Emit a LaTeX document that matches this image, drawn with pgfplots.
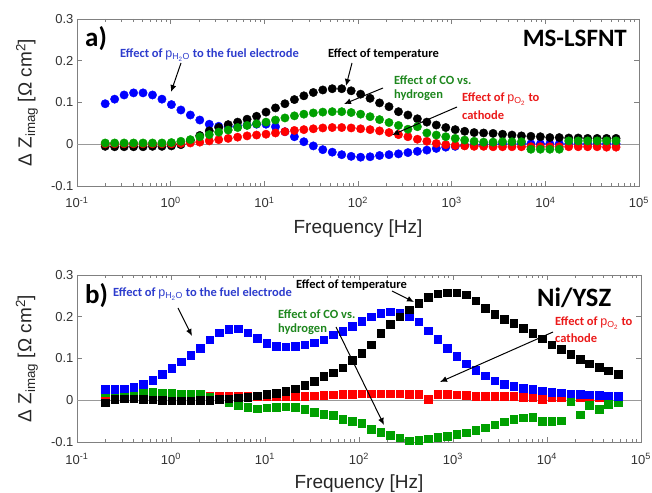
\documentclass[border=0pt]{standalone}
\usepackage{fontspec}
\setmainfont{Liberation Sans}
\newfontfamily\annfont{Carlito}
\usepackage{pgfplots}
\pgfplotsset{compat=1.18}
\usepackage{pgfplotstable}
\usetikzlibrary{arrows.meta}

\definecolor{cblue}{RGB}{0,0,255}
\definecolor{cgreen}{RGB}{0,160,0}
\definecolor{cred}{RGB}{255,0,0}
\definecolor{tblue}{RGB}{45,60,205}
\definecolor{tgreen}{RGB}{30,135,30}
\definecolor{tred}{RGB}{235,25,25}

% columns: frequency, temperature, pH2O, CO vs H2, pO2
\pgfplotstableread{
f temp h2o co o2
0.2 -0.005 0.097 0.003 0.001
0.2523 -0.006 0.108 0.003 0.001
0.3184 -0.006 0.118 0.003 0.001
0.4018 -0.006 0.123 0.003 0.001
0.507 -0.006 0.123 0.003 0.001
0.6397 -0.005 0.118 0.003 0.001
0.8072 -0.005 0.108 0.003 0.001
1.0186 -0.004 0.095 0.004 0.001
1.2853 -0.001 0.082 0.007 0.002
1.6218 0.009 0.070 0.011 0.003
2.0464 0.021 0.058 0.018 0.005
2.5823 0.032 0.048 0.023 0.008
3.2584 0.040 0.043 0.029 0.011
4.1115 0.047 0.042 0.034 0.014
5.188 0.053 0.043 0.040 0.017
6.5464 0.060 0.046 0.045 0.020
8.2604 0.067 0.048 0.049 0.022
10.423 0.077 0.048 0.053 0.024
13.152 0.087 0.042 0.058 0.027
16.596 0.097 0.030 0.063 0.030
20.941 0.107 0.018 0.068 0.033
26.424 0.116 0.006 0.072 0.035
33.343 0.124 -0.004 0.075 0.037
42.073 0.130 -0.013 0.077 0.039
53.088 0.133 -0.019 0.078 0.040
66.988 0.133 -0.025 0.078 0.040
84.528 0.128 -0.029 0.076 0.039
106.66 0.120 -0.031 0.072 0.037
134.59 0.110 -0.030 0.066 0.035
169.82 0.099 -0.027 0.059 0.032
214.29 0.090 -0.025 0.052 0.028
270.4 0.078 -0.023 0.045 0.023
341.19 0.070 -0.020 0.036 0.018
430.53 0.061 -0.017 0.042 0.012
543.25 0.053 -0.014 0.027 0.007
685.49 0.046 -0.010 0.022 0.002
864.97 0.040 -0.007 0.018 -0.001
1091.4 0.035 -0.005 0.014 -0.003
1377.2 0.031 -0.003 0.010 -0.004
1737.8 0.028 -0.002 0.007 -0.005
2192.8 0.027 -0.001 0.005 -0.005
2766.9 0.026 0.000 0.005 -0.006
3491.4 0.024 0.001 0.006 -0.006
4405.5 0.022 0.001 0.006 -0.006
5559 0.020 0.001 0.006 -0.006
7014.5 0.019 0.001 -0.012 -0.006
8851.1 0.018 0.001 -0.012 -0.006
11169 0.016 0.001 -0.012 -0.006
14093 0.016 0.001 -0.012 -0.006
17783 0.015 0.001 0.008 -0.006
22439 0.015 0.001 0.008 -0.006
28314 0.014 0.001 0.008 -0.006
35727 0.014 0.001 0.008 -0.006
45082 0.014 0.001 0.008 -0.007
56885 0.014 0.001 0.008 -0.007
}\lsfnt

\pgfplotstableread{
f temp h2o co o2
0.2 -0.006 0.026 0.020 0.010
0.2523 0.003 0.026 0.023 0.010
0.3184 0.004 0.028 0.020 0.010
0.4018 0.004 0.031 0.022 0.010
0.507 0.002 0.038 0.021 0.010
0.6397 0.001 0.048 0.020 0.010
0.8072 0.000 0.063 0.018 0.010
1.0186 -0.001 0.077 0.017 0.010
1.2853 -0.001 0.092 0.016 0.010
1.6218 -0.001 0.108 0.015 0.010
2.0464 0.000 0.125 0.014 0.010
2.5823 0.000 0.145 0.008 0.010
3.2584 0.002 0.162 0.002 0.010
4.1115 0.004 0.170 -0.005 0.010
5.188 0.006 0.171 -0.012 0.010
6.5464 0.008 0.162 -0.017 0.010
8.2604 0.011 0.149 -0.020 0.009
10.423 0.014 0.137 -0.018 0.009
13.152 0.017 0.130 -0.016 0.009
16.596 0.022 0.128 -0.015 0.009
20.941 0.028 0.130 -0.016 0.009
26.424 0.036 0.133 -0.022 0.010
33.343 0.045 0.138 -0.029 0.011
42.073 0.057 0.145 -0.033 0.012
53.088 0.066 0.157 -0.036 0.013
66.988 0.078 0.166 -0.045 0.014
84.528 0.096 0.178 -0.050 0.015
106.66 0.112 0.190 -0.055 0.016
134.59 0.133 0.200 -0.070 0.016
169.82 0.160 0.208 -0.077 0.016
214.29 0.182 0.212 -0.083 0.016
270.4 0.200 0.210 -0.090 0.016
341.19 0.217 0.200 -0.097 0.015
430.53 0.232 0.188 -0.095 0.014
543.25 0.247 0.167 -0.092 0.003
685.49 0.255 0.146 -0.089 0.015
864.97 0.258 0.124 -0.086 0.014
1091.4 0.258 0.105 -0.081 0.013
1377.2 0.253 0.088 -0.078 0.012
1737.8 0.238 0.072 -0.072 0.010
2192.8 0.220 0.059 -0.066 0.010
2766.9 0.206 0.047 -0.059 0.009
3491.4 0.194 0.039 -0.051 0.009
4405.5 0.184 0.033 -0.046 0.009
5559 0.173 0.029 -0.042 0.008
7014.5 0.161 0.026 -0.040 0.006
8851.1 0.147 0.023 -0.050 0.002
11169 0.133 0.020 -0.050 0.006
14093 0.122 0.018 -0.049 0.006
17783 0.110 0.016 -0.003 0.006
22439 0.098 0.015 -0.035 0.006
28314 0.088 0.013 -0.012 0.006
35727 0.079 0.012 -0.022 0.006
45082 0.071 0.011 -0.010 0.006
56885 0.062 0.010 -0.005 0.006
}\nysz

\newcommand{\ann}{\annfont\bfseries\fontsize{12.5}{14}\selectfont}

\begin{document}
\begin{tikzpicture}
\useasboundingbox (0,0) rectangle (652pt,492pt);

\begin{axis}[
    at={(77pt,306pt)}, anchor=south west,
    scale only axis,
    width=562pt, height=167pt,
    xmode=log, xmin=0.1, xmax=100000,
    ymin=-0.1, ymax=0.3,
    xtick={0.1,1,10,100,1000,10000,100000},
    xticklabels={10\textsuperscript{-1},10\textsuperscript{0},10\textsuperscript{1},10\textsuperscript{2},10\textsuperscript{3},10\textsuperscript{4},10\textsuperscript{5}},
    minor xtick={0.2,0.3,0.4,0.5,0.6,0.7,0.8,0.9,2,3,4,5,6,7,8,9,20,30,40,50,60,70,80,90,200,300,400,500,600,700,800,900,2000,3000,4000,5000,6000,7000,8000,9000,20000,30000,40000,50000,60000,70000,80000,90000},
    ytick={-0.1,0,0.1,0.2,0.3},
    yticklabels={-0.1,0,0.1,0.2,0.3},
    tick label style={font=\fontsize{13}{13}\selectfont, black!80},
    xticklabel style={anchor=base, yshift=-22pt},
    label style={font=\fontsize{19}{19}\selectfont, black!85},
    xlabel={Frequency [Hz]},
    ylabel={Δ Z\textsubscript{imag} [Ω cm\textsuperscript{2}]},
    xlabel style={at={(axis description cs:0.5,-0.257)}, anchor=center},
    ylabel style={at={(axis description cs:-0.089,0.5)}, anchor=center},
    axis line style={black!50, line width=0.7pt},
    tick style={black!50, line width=0.6pt},
    major tick length=5pt, minor tick length=3pt,
    clip=false,
]
\addplot[black!40, line width=0.7pt] coordinates {(0.1,0) (100000,0)};
\addplot[only marks, mark=*, mark size=4.2pt, mark options={draw=cblue, fill=cblue}] table[x=f, y=h2o] {\lsfnt};
\addplot[only marks, mark=*, mark size=4.2pt, mark options={draw=black, fill=black}] table[x=f, y=temp] {\lsfnt};
\addplot[only marks, mark=*, mark size=4.2pt, mark options={draw=cred, fill=cred}] table[x=f, y=o2] {\lsfnt};
\addplot[only marks, mark=*, mark size=4.2pt, mark options={draw=cgreen, fill=cgreen}] table[x=f, y=co] {\lsfnt};
\end{axis}

\begin{axis}[
    at={(77pt,50pt)}, anchor=south west,
    scale only axis,
    width=564pt, height=167pt,
    xmode=log, xmin=0.1, xmax=100000,
    ymin=-0.1, ymax=0.3,
    xtick={0.1,1,10,100,1000,10000,100000},
    xticklabels={10\textsuperscript{-1},10\textsuperscript{0},10\textsuperscript{1},10\textsuperscript{2},10\textsuperscript{3},10\textsuperscript{4},10\textsuperscript{5}},
    minor xtick={0.2,0.3,0.4,0.5,0.6,0.7,0.8,0.9,2,3,4,5,6,7,8,9,20,30,40,50,60,70,80,90,200,300,400,500,600,700,800,900,2000,3000,4000,5000,6000,7000,8000,9000,20000,30000,40000,50000,60000,70000,80000,90000},
    ytick={-0.1,0,0.1,0.2,0.3},
    yticklabels={-0.1,0,0.1,0.2,0.3},
    tick label style={font=\fontsize{13}{13}\selectfont, black!80},
    xticklabel style={anchor=base, yshift=-22pt},
    label style={font=\fontsize{19}{19}\selectfont, black!85},
    xlabel={Frequency [Hz]},
    ylabel={Δ Z\textsubscript{imag} [Ω cm\textsuperscript{2}]},
    xlabel style={at={(axis description cs:0.5,-0.251)}, anchor=center},
    ylabel style={at={(axis description cs:-0.089,0.5)}, anchor=center},
    axis line style={black!50, line width=0.7pt},
    tick style={black!50, line width=0.6pt},
    major tick length=5pt, minor tick length=3pt,
    clip=false,
]
\addplot[black!40, line width=0.7pt] coordinates {(0.1,0) (100000,0)};
\addplot[only marks, mark=square*, mark size=3.8pt, mark options={draw=cred, fill=cred}] table[x=f, y=o2] {\nysz};
\addplot[only marks, mark=square*, mark size=3.8pt, mark options={draw=cgreen, fill=cgreen}] table[x=f, y=co] {\nysz};
\addplot[only marks, mark=square*, mark size=3.8pt, mark options={draw=cblue, fill=cblue}] table[x=f, y=h2o] {\nysz};
\addplot[only marks, mark=square*, mark size=3.8pt, mark options={draw=black, fill=black}] table[x=f, y=temp] {\nysz};
\end{axis}

% annotations in image pixel coordinates (y down)
\begin{scope}[x=1pt, y=-1pt, shift={(0pt,492pt)}, >={Latex[length=7pt,width=6pt]}]
% panel a
\node[anchor=west, inner sep=0] at (85,39) {\annfont\bfseries\fontsize{27}{27}\selectfont a)};
\node[anchor=east, inner sep=0] at (627,38) {\annfont\bfseries\fontsize{25}{25}\selectfont MS-LSFNT};
\node[anchor=west, inner sep=0, text=tblue] at (120,55) {\ann Effect of $\mathrm{p_{H_2O}}$ to the fuel electrode};
\draw[->, line width=1pt] (181,63) -- (171,92);
\node[anchor=west, inner sep=0] at (328,54) {\ann Effect of temperature};
\draw[->, line width=1pt] (352,63) -- (346,86);
\node[anchor=west, inner sep=0, text=tgreen] at (394,80) {\ann Effect of CO vs.};
\node[anchor=west, inner sep=0, text=tgreen] at (394,95) {\ann hydrogen};
\draw[->, line width=1pt] (383,88) -- (344,104);
\node[anchor=west, inner sep=0, text=tred] at (462,99) {\ann Effect of $\mathrm{p_{O_2}}$ to};
\node[anchor=west, inner sep=0, text=tred] at (462,115) {\ann cathode};
\draw[->, line width=1pt] (457,107) -- (392,135);
% panel b
\node[anchor=west, inner sep=0] at (85,296) {\annfont\bfseries\fontsize{27}{27}\selectfont b)};
\node[anchor=west, inner sep=0] at (537,298) {\annfont\bfseries\fontsize{26.5}{26.5}\selectfont Ni/YSZ};
\node[anchor=west, inner sep=0, text=tblue] at (113,294) {\ann Effect of $\mathrm{p_{H_2O}}$ to the fuel electrode};
\draw[->, line width=1pt] (178,308) -- (192,336);
\node[anchor=west, inner sep=0] at (296,285) {\ann Effect of temperature};
\draw[->, line width=1pt] (392,291) -- (414,302);
\node[anchor=west, inner sep=0, text=tgreen] at (278,314) {\ann Effect of CO vs.};
\node[anchor=west, inner sep=0, text=tgreen] at (278,329) {\ann hydrogen};
\draw[->, line width=1pt] (336,327) -- (384,425);
\node[anchor=west, inner sep=0, text=tred] at (555,323) {\ann Effect of $\mathrm{p_{O_2}}$ to};
\node[anchor=west, inner sep=0, text=tred] at (555,338) {\ann cathode};
\draw[->, line width=1pt] (553,332) -- (440,382);
\end{scope}
\end{tikzpicture}
\end{document}
